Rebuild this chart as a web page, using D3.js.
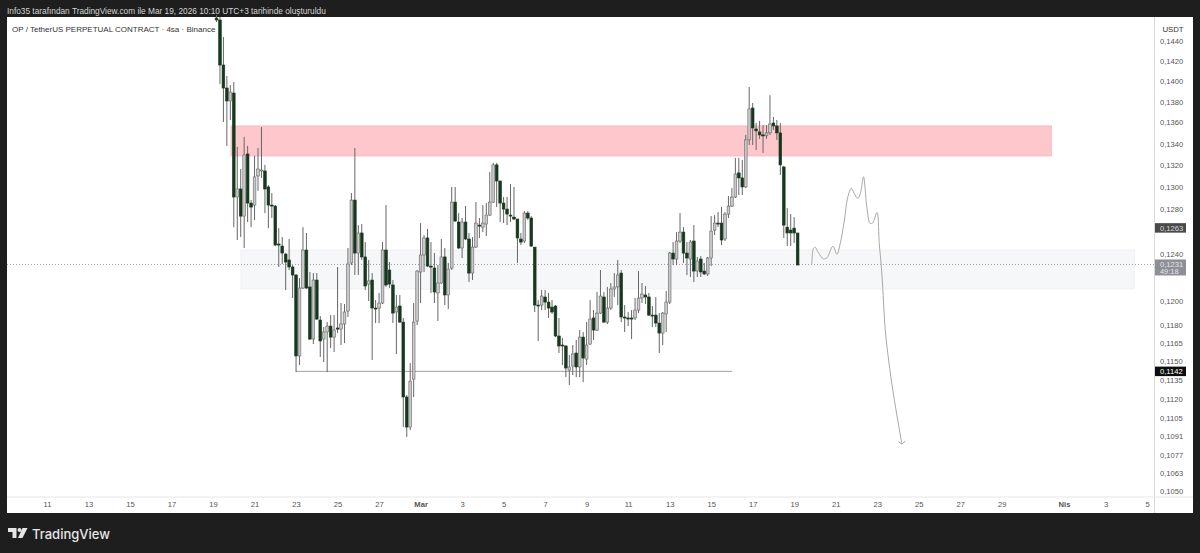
<!DOCTYPE html>
<html>
<head>
<meta charset="utf-8">
<style>
  html, body { margin: 0; padding: 0; background: #1e1e1e; overflow: hidden; }
  text { font-family: "Liberation Sans", Arial, sans-serif; }
</style>
<script src="https://cdn.jsdelivr.net/npm/d3@7"></script>
</head>
<body>
<div id="chart"></div>
<script>
// 4h candles, oldest first
const opens = [
  .14635,.14615,.14160,.13933,.13807,.13884,.12907,.12980,.12735,.13303,.12852,.12834,.13099,.13145,.13145,.12998,.12834,.12825,.12488,.12470,
  .12400,.12349,.12288,.12219,.11544,.12108,.12435,.12117,.11682,.12176,.11839,.11682,.11740,.11789,.11698,.11773,.11764,.11806,.11914,.12323,
  .12879,.12409,.12585,.12375,.12142,.12176,.11939,.11939,.11981,.12435,.12262,.12134,.11906,.11956,.11822,.11216,.10982,.11358,.11831,.12245,
  .12392,.12541,.12296,.12279,.12066,.12151,.12375,.12049,.12279,.12861,.12682,.12453,.12682,.12532,.12236,.12461,.12655,.12637,.12664,.12744,
  .12861,.13201,.13053,.12852,.12798,.12744,.12726,.12709,.12532,.12514,.12762,.12718,.12461,.11964,.11964,.12032,.11989,.11947,.11956,.11707,
  .11633,.11625,.11430,.11463,.11568,.11455,.11698,.11519,.11641,.11856,.11756,.11897,.12032,.11822,.11939,.12100,.12117,.12236,.11864,.11856,
  .11856,.11856,.11922,.12023,.12049,.12032,.11880,.11880,.11814,.11731,.11889,.11989,.12409,.12357,.12514,.12593,.12409,.12357,.12514,.12253,
  .12357,.12253,.12228,.12366,.12611,.12673,.12673,.12532,.12753,.12825,.12907,.13127,.13081,.12998,.13435,.13739,.13538,.13510,.13482,.13473,
  .13501,.13595,.13567,.13501,.13182,.12637,.12611,.12628,.12585
];
const highs = [
  .14666,.14646,.14441,.14051,.13962,.13992,.13369,.13163,.13463,.13378,.12879,.13285,.13359,.13557,.13201,.13016,.12943,.12834,.12628,.12549,
  .12409,.12532,.12305,.12228,.12193,.12637,.12585,.12245,.12236,.12236,.11872,.11781,.11822,.11880,.11880,.12288,.11981,.11973,.12453,.12943,
  .13359,.12655,.12664,.12505,.12349,.12236,.12006,.12066,.12505,.12834,.12331,.12176,.12049,.12049,.11856,.11232,.11487,.11981,.12262,.12673,
  .12567,.12620,.12505,.12409,.12305,.12532,.12453,.12323,.12998,.12998,.12762,.12718,.12825,.12585,.12549,.12861,.12718,.12834,.12852,.13136,
  .13220,.13220,.13053,.12907,.12907,.13025,.12998,.12709,.12585,.12780,.12780,.12735,.12461,.12006,.12091,.12091,.12066,.12006,.11964,.11856,
  .11690,.11633,.11552,.11633,.11674,.11756,.11740,.11822,.12006,.11922,.12074,.12262,.12074,.12117,.12151,.12236,.12349,.12262,.11964,.11906,
  .11922,.12023,.12253,.12151,.12125,.12066,.11956,.12032,.11897,.11906,.12083,.12418,.12505,.12593,.12762,.12637,.12505,.12523,.12655,.12375,
  .12383,.12323,.12375,.12735,.12744,.12771,.12816,.12771,.12916,.12989,.13266,.13266,.13247,.13482,.13943,.13787,.13595,.13615,.13576,.13576,
  .13864,.13653,.13624,.13595,.13192,.12807,.12753,.12726,.12585
];
const lows = [
  .14594,.13972,.13605,.13378,.13624,.12637,.12523,.12549,.12453,.12682,.12637,.12700,.12962,.13081,.12762,.12628,.12718,.12470,.12288,.12314,
  .12091,.12262,.12023,.11414,.11471,.12100,.12100,.11674,.11641,.11839,.11536,.11495,.11414,.11608,.11576,.11731,.11633,.11649,.11864,.12305,
  .12219,.12219,.12349,.12091,.11998,.11511,.11814,.11814,.11973,.12117,.12108,.11814,.11560,.11814,.10982,.10906,.10959,.11216,.11797,.11981,
  .12245,.12288,.12066,.11981,.11831,.12142,.11964,.11931,.12262,.12682,.12444,.12366,.12523,.12159,.12176,.12453,.12541,.12593,.12558,.12735,
  .12852,.12816,.12682,.12673,.12655,.12682,.12700,.12323,.12479,.12497,.12700,.12461,.11906,.11666,.11922,.11922,.11856,.11889,.11698,.11568,
  .11471,.11374,.11311,.11390,.11374,.11374,.11334,.11471,.11633,.11674,.11748,.11889,.11814,.11806,.11922,.12032,.11964,.11822,.11740,.11789,
  .11682,.11839,.11897,.11981,.11973,.11872,.11781,.11781,.11568,.11633,.11740,.11973,.12305,.12305,.12497,.12323,.12219,.12202,.12159,.12202,
  .12202,.12219,.12210,.12296,.12567,.12637,.12479,.12514,.12718,.12816,.12897,.12925,.12925,.12989,.13387,.13387,.13340,.13444,.13312,.13444,
  .13482,.13529,.13435,.13108,.12541,.12470,.12470,.12497,.12305
];
const closes = [
  .14615,.14160,.13933,.13807,.13894,.12907,.12980,.12735,.13294,.12852,.12816,.13090,.13163,.13154,.12980,.12834,.12825,.12479,.12479,.12409,
  .12331,.12288,.12219,.11544,.12108,.12435,.12108,.11682,.12176,.11847,.11666,.11740,.11789,.11698,.11756,.11764,.11806,.11906,.12314,.12879,
  .12409,.12585,.12375,.12125,.12168,.11939,.11931,.11981,.12435,.12134,.12142,.11897,.11947,.11822,.11216,.10982,.11342,.11822,.12253,.12392,
  .12541,.12296,.12288,.12074,.12151,.12375,.12049,.12270,.12861,.12691,.12453,.12682,.12532,.12236,.12461,.12673,.12646,.12673,.12744,.12861,
  .13201,.13053,.12852,.12798,.12753,.12735,.12709,.12541,.12505,.12762,.12718,.12470,.11964,.11956,.12040,.11989,.11939,.11906,.11707,.11625,
  .11625,.11447,.11455,.11560,.11455,.11698,.11527,.11633,.11847,.11756,.11897,.12040,.11822,.11939,.12100,.12117,.12219,.11864,.11856,.11847,
  .11847,.11922,.12023,.12057,.12032,.11880,.11872,.11814,.11731,.11897,.11989,.12409,.12357,.12514,.12593,.12409,.12366,.12505,.12253,.12340,
  .12245,.12228,.12366,.12602,.12673,.12664,.12523,.12753,.12825,.12907,.13117,.13081,.12998,.13435,.13730,.13548,.13520,.13482,.13473,.13501,
  .13586,.13567,.13501,.13201,.12655,.12585,.12585,.12585,.12305
];

const firstBar = Date.UTC(2026, 1, 19, 4);
const barHours = 4;
const dayZero = Date.UTC(2026, 1, 11);

const priceTicks = [.1440,.1420,.1400,.1380,.1360,.1340,.1320,.1300,.1280,.1240,.1200,.1180,.1165,.1150,.1135,.1120,.1105,.1091,.1077,.1063,.1050];
const timeTickDays = [0,2,4,6,8,10,12,14,16,18,20,22,24,26,28,30,32,34,36,38,40,42,44,46,49,51,53];
const timeTickLabels = ['11','13','15','17','19','21','23','25','27','Mar','3','5','7','9','11','13','15','17','19','21','23','25','27','29','Nis','3','5'];

// drawn zones: [start day, end day, top price, bottom price]
const redZone = [8.87, 48.39, .13567, .13285];
const greyZone = [9.35, 52.39, .12435, .12100];
const supportLine = [12.0, 33.01, .1142];
const lastPrice = .1231;
const prevPrice = .1263;

// hand drawn projection
const sketchDays = [36.85,36.93,37.01,37.17,37.41,37.58,37.87,38.06,38.22,38.41,38.57,38.75,38.89,39.07,39.21,39.34,39.50,39.66,39.79,39.99,40.10,40.23,40.39,40.55,40.79,41.19];
const sketchPrices = [.12314,.12450,.12459,.12412,.12358,.12369,.12468,.12398,.12494,.12684,.12895,.12986,.12940,.12895,.12955,.13092,.12819,.12670,.12676,.12768,.12494,.12219,.11756,.11511,.11232,.10852];

const W = 1200, H = 553;
const dayDate = d => new Date(dayZero + d * 864e5);
const barDate = i => new Date(firstBar + i * barHours * 36e5);

const x = d3.scaleUtc().domain([dayDate(0), dayDate(53)]).range([47, 1147]);
const y = d3.scaleLog().domain([.142, .105]).range([61, 491]);
const comma = v => v.toFixed(4).replace('.', ',');

const svg = d3.select('#chart').append('svg')
  .attr('width', W).attr('height', H)
  .attr('viewBox', `0 0 ${W} ${H}`)
  .style('display', 'block');

svg.append('rect').attr('width', W).attr('height', H).attr('fill', '#1e1e1e');
svg.append('rect').attr('x', 7).attr('y', 17).attr('width', 1186).attr('height', 496).attr('fill', '#fff');

svg.append('text').attr('x', 7).attr('y', 14)
  .attr('font-size', 8.3).attr('fill', '#d4d4d4')
  .text('Info35 tarafından TradingView.com ile Mar 19, 2026 10:10 UTC+3 tarihinde oluşturuldu');

// Zones
const zone = (z, fill, stroke) => svg.append('rect')
  .attr('x', x(dayDate(z[0]))).attr('y', y(z[2]))
  .attr('width', x(dayDate(z[1])) - x(dayDate(z[0])))
  .attr('height', y(z[3]) - y(z[2]))
  .attr('fill', fill).attr('stroke', stroke).attr('stroke-width', 1);
zone(redZone, '#fdc7cc', '#f3bbc0');
zone(greyZone, '#f5f7f9', '#eef0f3');

// Current price line
svg.append('line')
  .attr('x1', 7).attr('x2', 1154)
  .attr('y1', y(lastPrice)).attr('y2', y(lastPrice))
  .attr('stroke', '#8a8a8a').attr('stroke-width', 0.8).attr('stroke-dasharray', '1,2');

// Support
svg.append('line')
  .attr('x1', x(dayDate(supportLine[0]))).attr('x2', x(dayDate(supportLine[1])))
  .attr('y1', y(supportLine[2])).attr('y2', y(supportLine[2]))
  .attr('stroke', '#a0a0a0').attr('stroke-width', 1);

// Candles
const bars = d3.range(opens.length);
svg.append('g').selectAll('line').data(bars).join('line')
  .attr('x1', i => x(barDate(i))).attr('x2', i => x(barDate(i)))
  .attr('y1', i => y(highs[i])).attr('y2', i => y(lows[i]))
  .attr('stroke', '#666').attr('stroke-width', 1);

const bodyW = 2.7;
svg.append('g').selectAll('rect').data(bars).join('rect')
  .attr('x', i => x(barDate(i)) - bodyW / 2)
  .attr('y', i => y(Math.max(opens[i], closes[i])))
  .attr('width', bodyW)
  .attr('height', i => Math.max(1, Math.abs(y(opens[i]) - y(closes[i]))))
  .attr('fill', i => closes[i] < opens[i] ? '#17381f' : '#c9c9c9')
  .attr('stroke', i => closes[i] < opens[i] ? '#17381f' : '#666')
  .attr('stroke-width', 0.6);

// Projection arrow
const sketch = d3.line()
  .x(d => x(dayDate(d[0])))
  .y(d => y(d[1]))
  .curve(d3.curveCatmullRom.alpha(0.5));
svg.append('path')
  .attr('d', sketch(sketchDays.map((d, i) => [d, sketchPrices[i]])))
  .attr('fill', 'none').attr('stroke', '#a8a8a8').attr('stroke-width', 1);
const tipX = x(dayDate(sketchDays[sketchDays.length - 1]));
const tipY = y(sketchPrices[sketchPrices.length - 1]);
svg.append('path')
  .attr('d', `M${tipX - 3.5},${tipY - 2.5}L${tipX},${tipY}L${tipX + 3.5},${tipY - 3}`)
  .attr('fill', 'none').attr('stroke', '#a8a8a8').attr('stroke-width', 1);

// Price axis
svg.append('rect').attr('x', 1154).attr('y', 17).attr('width', 39).attr('height', 496).attr('fill', '#fff');
const priceAxis = svg.append('g').attr('transform', 'translate(1160,0)')
  .call(d3.axisRight(y).tickValues(priceTicks).tickFormat(comma).tickSize(0).tickPadding(0));
priceAxis.select('.domain').remove();
priceAxis.selectAll('text')
  .attr('font-size', 7.6).attr('fill', '#555')
  .style('font-family', '"Liberation Sans", Arial, sans-serif');

// white box of the currency label hides the top tick
svg.append('rect').attr('x', 1155).attr('y', 17).attr('width', 38).attr('height', 22).attr('fill', '#fff');
svg.append('text').attr('x', 1173).attr('y', 32).attr('text-anchor', 'middle')
  .attr('font-size', 7.8).attr('fill', '#333').text('USDT');

svg.append('line').attr('x1', 1154.5).attr('x2', 1154.5).attr('y1', 17).attr('y2', 513)
  .attr('stroke', '#d9d9d9').attr('stroke-width', 1);

// Price labels
const priceTag = (price, fill, color, second) => {
  const cy = y(price);
  const h = second ? 16 : 9.5;
  const top = second ? cy - 5 : cy - h / 2;
  svg.append('rect').attr('x', 1155).attr('y', top).attr('width', 31).attr('height', h).attr('fill', fill);
  svg.append('text').attr('x', 1160).attr('y', top + 7.6).attr('font-size', 7.6).attr('fill', color).text(comma(price));
  if (second) svg.append('text').attr('x', 1160).attr('y', top + 14.6).attr('font-size', 7.4).attr('fill', color).text(second);
};
priceTag(prevPrice, '#4a4a4a', '#dcdcdc');
priceTag(supportLine[2], '#0d0d0d', '#fff');
priceTag(lastPrice, '#8d8f96', '#e4e4e4', '49:18');

// Time axis
svg.append('line').attr('x1', 7).attr('x2', 1193).attr('y1', 497).attr('y2', 497)
  .attr('stroke', '#e6e6e6').attr('stroke-width', 1);
const timeAxis = svg.append('g').attr('transform', 'translate(0,502)')
  .call(d3.axisBottom(x).tickValues(timeTickDays.map(dayDate))
    .tickFormat((d, i) => timeTickLabels[i]).tickSize(0).tickPadding(0));
timeAxis.select('.domain').remove();
timeAxis.selectAll('text')
  .attr('font-size', 7.6).attr('fill', '#555')
  .style('font-family', '"Liberation Sans", Arial, sans-serif')
  .attr('font-weight', (d, i) => /[A-Z]/.test(timeTickLabels[i]) ? 700 : 400);

// Title
svg.append('text').attr('x', 12).attr('y', 32)
  .attr('font-size', 8).attr('fill', '#333')
  .text('OP / TetherUS PERPETUAL CONTRACT · 4sa · Binance');

// Logo
const logo = svg.append('g').attr('fill', '#e6e6e6');
logo.append('path').attr('d', 'M8,528H16.5V538H12.5V532H8Z');
logo.append('circle').attr('cx', 19.5).attr('cy', 530).attr('r', 2);
logo.append('path').attr('d', 'M22.5,528H27.5L22.5,538H18Z');
svg.append('text').attr('x', 32).attr('y', 538.5)
  .attr('font-size', 13).attr('fill', '#e6e6e6').attr('font-weight', 500)
  .style('font-family', 'Inter, sans-serif').text('TradingView');
</script>
</body>
</html>
